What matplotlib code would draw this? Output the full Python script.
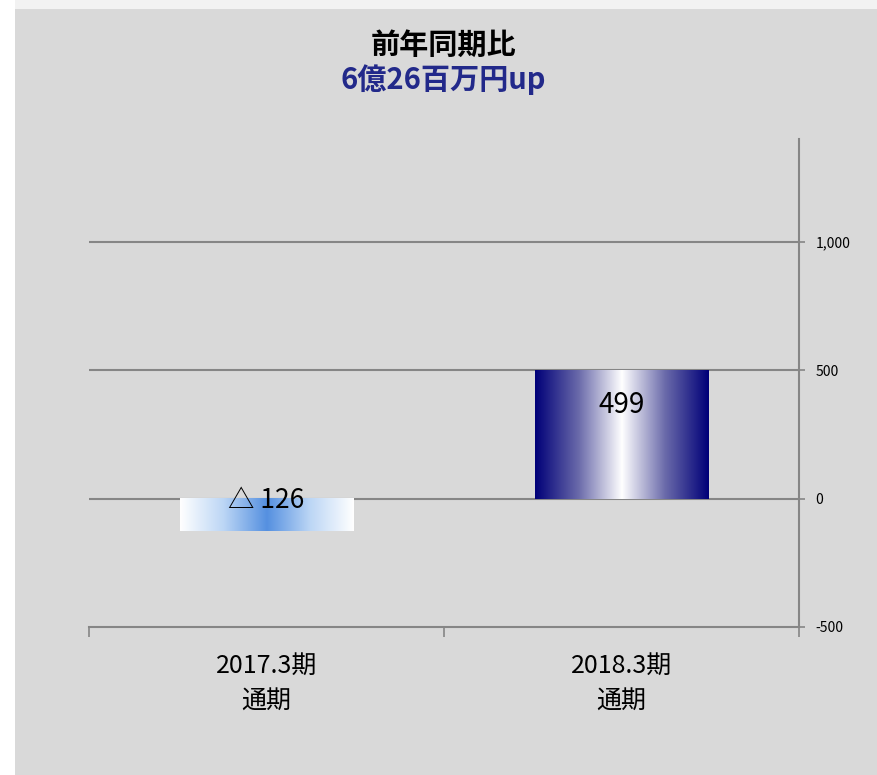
import numpy as np
import matplotlib
matplotlib.use("Agg")
import matplotlib.pyplot as plt
from matplotlib.colors import LinearSegmentedColormap
from matplotlib.patches import Rectangle

plt.rcParams['font.family'] = ['Noto Sans CJK JP', 'DejaVu Sans']

categories = ["2017.3期\n通期", "2018.3期\n通期"]
values = [-126, 499]
value_labels = ["△ 126", "499"]
yticks = [-500, 0, 500, 1000]
ytick_labels = ["-500", "0", "500", "1,000"]
title_line1 = "前年同期比"
title_line2 = "6億26百万円up"

bg = "#d9d9d9"
fig = plt.figure(figsize=(8.78, 7.75), dpi=100)
fig.patch.set_facecolor("white")
fig.patches.append(Rectangle((15/878, 0), 1 - 15/878, 1 - 9/775, transform=fig.transFigure,
                             facecolor=bg, edgecolor="none", zorder=-10))
fig.patches.append(Rectangle((15/878, 1 - 9/775), 1 - 15/878, 9/775, transform=fig.transFigure,
                             facecolor="#f2f2f2", edgecolor="none", zorder=-10))

ax = fig.add_axes([89/878, 1 - 627/775, (799 - 89)/878, (627 - 139)/775])
ax.set_facecolor("none")

x = np.arange(len(categories))
bars = ax.bar(x, values, width=0.49, color="none", edgecolor="none", zorder=3)

cmaps = [
    LinearSegmentedColormap.from_list("b1", ["#ffffff", "#bcd6f5", "#5590e0", "#bcd6f5", "#ffffff"]),
    LinearSegmentedColormap.from_list("b2", ["#000078", "#6a6aaa", "#ffffff", "#6a6aaa", "#000078"]),
]
grad = np.linspace(0, 1, 256).reshape(1, -1)
for b, cm in zip(bars, cmaps):
    bx, by = b.get_x(), b.get_y()
    w, h = b.get_width(), b.get_height()
    ax.imshow(grad, cmap=cm, aspect="auto", extent=[bx, bx + w, by, by + h],
              origin="lower", zorder=3, interpolation="bilinear")
ax.set_xlim(-0.5, 1.5)
ax.set_ylim(-500, 1400)

# data labels
ax.text(x[0], values[0] + 118, value_labels[0], ha="center", va="center", fontsize=19,
        color="black", zorder=5)
ax.text(x[1], values[1] - 134, value_labels[1], ha="center", va="center", fontsize=20,
        color="black", zorder=5)

# grid
for yv in [0, 500, 1000]:
    ax.axhline(yv, color="#868686", lw=1.5, zorder=2)

ax.yaxis.tick_right()
ax.set_yticks(yticks)
ax.set_yticklabels(ytick_labels, fontsize=10)
ax.tick_params(axis="y", direction="out", length=4, width=1.2, color="#868686", pad=8)

ax.set_xticks([-0.5, 0.5, 1.5])
ax.set_xticklabels(["", "", ""])
ax.tick_params(axis="x", direction="out", length=7, width=1.2, color="#868686")
for xi, lab in zip(x, categories):
    ax.text(xi, -0.052, lab, transform=ax.get_xaxis_transform(), ha="center", va="top",
            fontsize=18, linespacing=1.5)

for s in ["top", "left"]:
    ax.spines[s].set_visible(False)
for s in ["right", "bottom"]:
    ax.spines[s].set_color("#868686")
    ax.spines[s].set_linewidth(1.5)

fig.text(443/878, 1 - 45/775, title_line1, ha="center", va="center", fontsize=21,
         fontweight="bold", color="black")
fig.text(443/878, 1 - 80/775, title_line2, ha="center", va="center", fontsize=21,
         fontweight="bold", color="#22298a")

fig.savefig("out.png", dpi=100, facecolor=fig.get_facecolor())
